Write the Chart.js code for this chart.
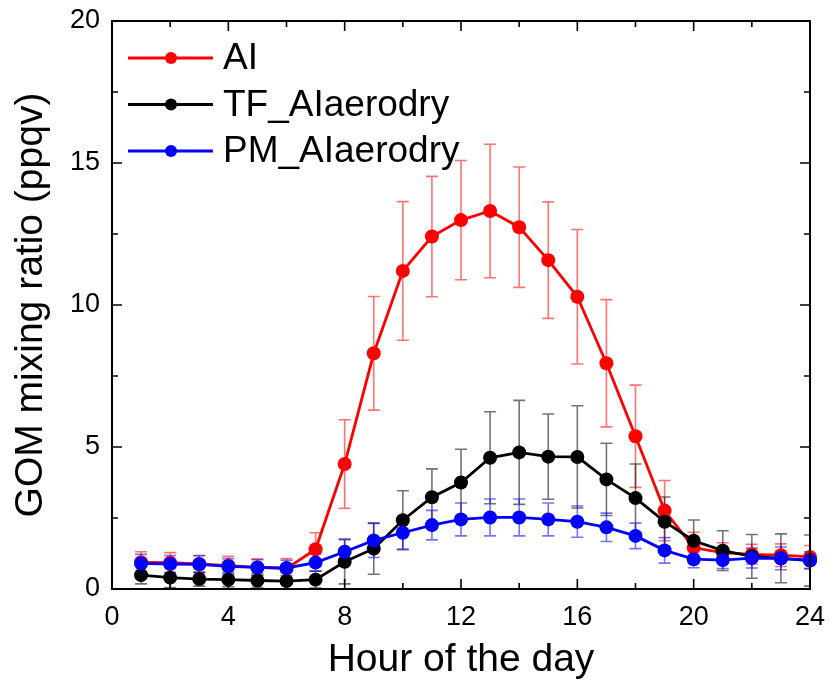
<!DOCTYPE html>
<html>
<head>
<meta charset="utf-8">
<script src="https://cdn.jsdelivr.net/npm/chart.js@4.4.1/dist/chart.umd.min.js"></script>
<style>
  html, body { margin: 0; padding: 0; background: #fff; }
  #wrap { width: 831px; height: 692px; }
</style>
</head>
<body>
<div id="wrap"><canvas id="c" width="831" height="692"></canvas></div>
<script>
// ---- data ----
const hours = [1,2,3,4,5,6,7,8,9,10,11,12,13,14,15,16,17,18,19,20,21,22,23,24];
const seriesNames = ["AI", "TF_AIaerodry", "PM_AIaerodry"];
const aiValues  = [0.94,0.93,0.88,0.82,0.76,0.72,1.40,4.40,8.30,11.20,12.41,12.99,13.31,12.74,11.58,10.29,7.95,5.38,2.76,1.45,1.28,1.22,1.19,1.13];
const aiErrors  = [0.37,0.35,0.30,0.33,0.30,0.35,0.58,1.56,2.00,2.44,2.12,2.10,2.35,2.12,2.05,2.37,2.24,1.80,1.06,0.55,0.35,0.35,0.40,0.40];
const tfValues  = [0.49,0.40,0.35,0.33,0.30,0.28,0.33,0.96,1.42,2.42,3.23,3.75,4.62,4.81,4.66,4.65,3.86,3.20,2.37,1.70,1.35,1.15,1.08,1.00];
const tfErrors  = [0.31,0.35,0.25,0.25,0.25,0.30,0.30,0.78,0.90,1.04,1.00,1.17,1.62,1.83,1.50,1.80,1.27,1.20,0.87,0.73,0.70,0.77,0.86,0.90];
const pmValues  = [0.90,0.88,0.87,0.80,0.76,0.74,0.93,1.31,1.71,1.98,2.25,2.45,2.52,2.52,2.45,2.37,2.17,1.87,1.36,1.05,1.02,1.09,1.08,1.01];
const pmErrors  = [0.32,0.30,0.30,0.27,0.27,0.27,0.30,0.45,0.60,0.57,0.52,0.58,0.65,0.65,0.58,0.55,0.50,0.45,0.45,0.30,0.30,0.35,0.40,0.30];
const xTicks = [0,4,8,12,16,20,24];
const yTicks = [0,5,10,15,20];
const xTitle = "Hour of the day";
const yTitle = "GOM mixing ratio (ppqv)";

const FONT = "'Liberation Sans', Arial, sans-serif";

function pts(vals) { return hours.map((h, i) => ({x: h, y: vals[i]})); }

const colors = ["#ff0000", "#000000", "#0000ff"];
const errColors = ["rgba(255,0,0,0.55)", "rgba(0,0,0,0.55)", "rgba(0,0,255,0.55)"];
const errs = [aiErrors, tfErrors, pmErrors];

const datasets = [aiValues, tfValues, pmValues].map((v, i) => ({
  label: seriesNames[i],
  data: pts(v),
  borderColor: colors[i],
  backgroundColor: colors[i],
  borderWidth: 2.8,
  pointRadius: 7,
  pointHoverRadius: 7,
  pointBorderWidth: 0,
  tension: 0,
  clip: false,
  order: 2 - i,
  errors: errs[i],
  errColor: errColors[i]
}));

const errorBars = {
  id: 'errorBars',
  beforeDatasetsDraw(chart) {
    const ctx = chart.ctx;
    const xs = chart.scales.x, ys = chart.scales.y;
    const area = chart.chartArea;
    ctx.save();
    ctx.beginPath();
    ctx.rect(area.left, area.top, area.right - area.left, area.bottom - area.top + 1);
    ctx.clip();
    chart.data.datasets.forEach(ds => {
      ctx.strokeStyle = ds.errColor;
      ctx.lineWidth = 1.6;
      ds.data.forEach((p, i) => {
        const e = ds.errors[i];
        const px = xs.getPixelForValue(p.x);
        const yt = ys.getPixelForValue(p.y + e);
        const yb = ys.getPixelForValue(p.y - e);
        ctx.beginPath();
        ctx.moveTo(px, yt); ctx.lineTo(px, yb);
        ctx.moveTo(px - 6, yt); ctx.lineTo(px + 6, yt);
        ctx.moveTo(px - 6, yb); ctx.lineTo(px + 6, yb);
        ctx.stroke();
      });
    });
    ctx.restore();
  }
};

const frame = {
  id: 'frame',
  afterDatasetsDraw(chart) {
    const ctx = chart.ctx;
    const a = chart.chartArea;
    const xs = chart.scales.x, ys = chart.scales.y;
    ctx.save();
    ctx.strokeStyle = '#000';
    ctx.lineWidth = 2;
    ctx.strokeRect(a.left, a.top, a.right - a.left, a.bottom - a.top);
    ctx.lineWidth = 1.6;
    ctx.beginPath();
    for (let v = 2; v < 24; v += 2) {
      const px = xs.getPixelForValue(v);
      const len = (v % 4 === 0) ? 10 : 6;
      ctx.moveTo(px, a.bottom); ctx.lineTo(px, a.bottom - len);
      ctx.moveTo(px, a.top); ctx.lineTo(px, a.top + len);
    }
    for (let v = 2.5; v < 20; v += 2.5) {
      const py = ys.getPixelForValue(v);
      const len = (v % 5 === 0) ? 10 : 6;
      ctx.moveTo(a.left, py); ctx.lineTo(a.left + len, py);
      ctx.moveTo(a.right, py); ctx.lineTo(a.right - len, py);
    }
    ctx.stroke();
    ctx.restore();
  }
};

const legendBox = {
  id: 'legendBox',
  afterDraw(chart) {
    const ctx = chart.ctx;
    const a = chart.chartArea;
    ctx.save();
    ctx.font = "37px " + FONT;
    ctx.textBaseline = 'middle';
    ctx.textAlign = 'left';
    chart.data.datasets.forEach((ds, i) => {
      const y = a.top + 37 + i * 46.5;
      const x0 = a.left + 16, x1 = a.left + 101, xm = a.left + 59;
      ctx.strokeStyle = ds.borderColor;
      ctx.lineWidth = 2.8;
      ctx.beginPath(); ctx.moveTo(x0, y); ctx.lineTo(x1, y); ctx.stroke();
      ctx.fillStyle = ds.backgroundColor;
      ctx.beginPath(); ctx.arc(xm, y, 6, 0, Math.PI * 2); ctx.fill();
      ctx.fillStyle = '#000';
      ctx.fillText(ds.label, a.left + 111, y + 1);
    });
    ctx.restore();
  }
};

function zeroPad(s) { s.paddingTop = 0; s.paddingBottom = 0; s.paddingLeft = 0; s.paddingRight = 0; }

new Chart(document.getElementById('c'), {
  type: 'line',
  data: { datasets },
  options: {
    responsive: false,
    animation: false,
    layout: { padding: { left: 0, right: 21, top: 21, bottom: 0 } },
    plugins: { legend: { display: false }, tooltip: { enabled: false } },
    scales: {
      x: {
        type: 'linear', min: 0, max: 24,
        afterFit(s) { s.height = 103; zeroPad(s); },
        afterBuildTicks(s) { s.ticks = xTicks.map(v => ({value: v})); },
        grid: { display: false, drawTicks: false },
        border: { display: false },
        ticks: { padding: 12, color: '#000', font: { size: 27, family: FONT }, maxRotation: 0 },
        title: { display: true, text: xTitle, color: '#000', font: { size: 39, family: FONT }, padding: { top: 0, bottom: 8 } }
      },
      y: {
        type: 'linear', min: 0, max: 20,
        afterFit(s) { s.width = 112; zeroPad(s); },
        afterBuildTicks(s) { s.ticks = yTicks.map(v => ({value: v})); },
        grid: { display: false, drawTicks: false },
        border: { display: false },
        ticks: { padding: 12, color: '#000', font: { size: 27, family: FONT } },
        title: { display: true, text: yTitle, color: '#000', font: { size: 39, family: FONT }, padding: { top: 8, bottom: 0 } }
      }
    }
  },
  plugins: [errorBars, frame, legendBox]
});
</script>
</body>
</html>
